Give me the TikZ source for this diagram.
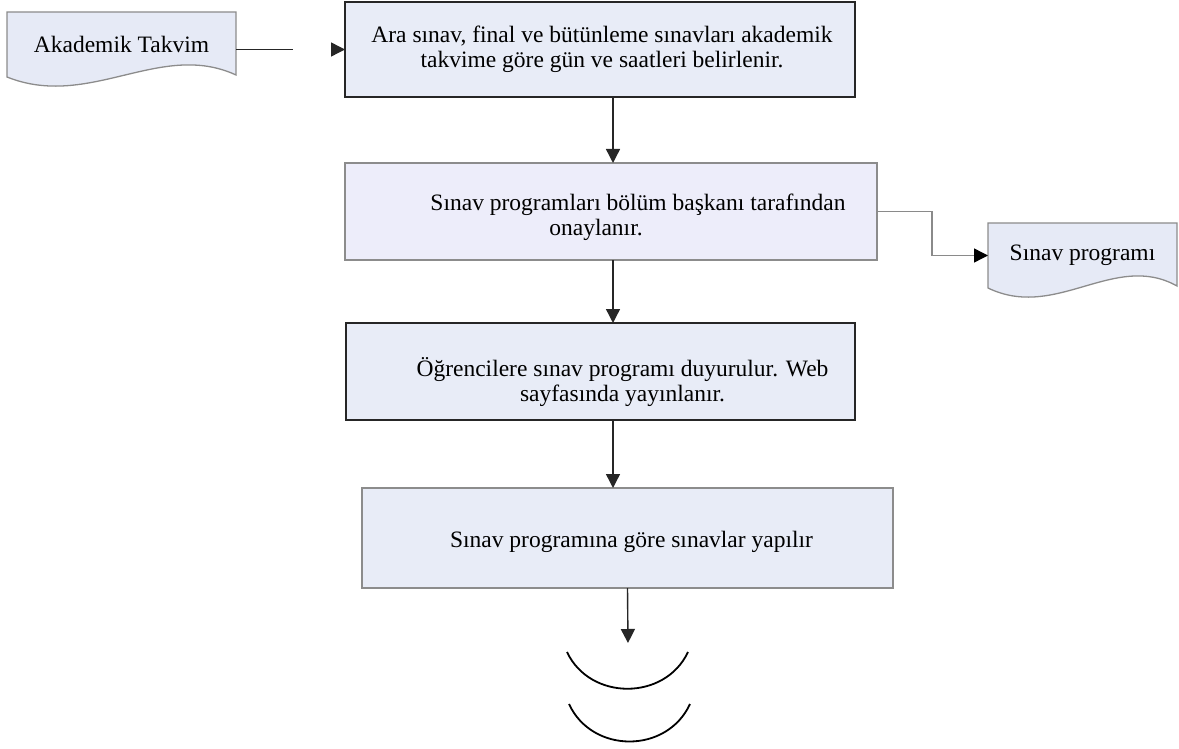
\documentclass[tikz,border=0pt]{standalone}
\usepackage{fontspec}
\setmainfont{Liberation Serif}
\usetikzlibrary{arrows.meta,calc,backgrounds}
\definecolor{boxfill}{HTML}{E8ECF7}
\definecolor{boxfillb}{HTML}{EDEDFA}
\definecolor{docfill}{HTML}{E6EAF6}
\definecolor{docline}{HTML}{8C8C8C}
\definecolor{linegray}{HTML}{8A8A8A}
\newcommand{\docoutline}[1]{%
  \begin{scope}[on background layer]
    \draw[draw=docline, line width=1.3pt, fill=docfill] (#1.north west) -- (#1.north east) -- ([yshift=2pt]#1.south east)
      .. controls ($(#1.south west)!0.67!(#1.south east)+(0pt,37pt)$) and ($(#1.south west)!0.36!(#1.south east)+(0pt,-33pt)$) .. (#1.south west) -- cycle;
  \end{scope}}
\begin{document}
\begin{tikzpicture}[x=1pt, y=-1pt,
    stepbox/.style={draw=black!85, line width=1.6pt, fill=boxfill, inner sep=0pt, outer sep=0pt},
    softbox/.style={stepbox, draw=black!45, fill=boxfillb},
    boxtext/.style={inner sep=0pt, align=center, font=\fontsize{23.5}{25}\selectfont},
    docnode/.style={inner sep=0pt, outer sep=0pt, font=\fontsize{23.5}{25}\selectfont},
    flow/.style={-{Triangle[length=14pt,width=14pt]}, line width=1.4pt, draw=black!85},
    flowgray/.style={-{Triangle[length=14pt,width=14pt,black]}, line width=1.4pt, draw=linegray}]
  \useasboundingbox (0,0) rectangle (1179,749);
  \node[docnode, minimum width=229pt, minimum height=65pt] (takvim) at (121.5,44.5) {Akademik Takvim};
  \docoutline{takvim}
  \node[stepbox, minimum width=510pt, minimum height=95pt] (box1) at (600,49.5) {};
  \node[boxtext] (box1txt) at ($(box1.center)+(2,0)$) {Ara sınav, final ve bütünleme sınavları akademik\\takvime göre gün ve saatleri belirlenir.};
  \node[softbox, minimum width=532pt, minimum height=97pt] (box2) at (611,211.5) {};
  \node[boxtext] (box2txt) at ($(box2.center)+(27,6)$) {Sınav programları bölüm başkanı tarafından\\onaylanır.\hspace*{84pt}};
  \node[docnode, minimum width=189pt, minimum height=65pt] (prog) at (1082.5,255.5) {Sınav programı};
  \docoutline{prog}
  \node[stepbox, minimum width=509pt, minimum height=97pt] (box3) at (600.5,371.5) {};
  \node[boxtext] (box3txt) at ($(box3.center)+(22,11)$) {Öğrencilere sınav programı duyurulur. Web\\sayfasında yayınlanır.};
  \node[softbox, fill=boxfill, minimum width=531pt, minimum height=100pt] (box4) at (627.5,538) {};
  \node[boxtext] (box4txt) at ($(box4.center)+(4,4)$) {Sınav programına göre sınavlar yapılır};
  \coordinate (endc) at (628,643);
  \draw[flow, dash pattern=on 57pt off 300pt] (takvim.east |- box1.west) -- (box1.west);
  \draw[flow] ([xshift=13pt]box1.south) -- ([xshift=13pt]box1.south |- box2.north);
  \draw[flowgray] (box2.east) -- ++(55,0) |- (prog.west);
  \draw[flow] ([xshift=2pt]box2.south) -- ([xshift=2pt]box2.south |- box3.north);
  \draw[flow] ([xshift=12.5pt]box3.south) -- ([xshift=12.5pt]box3.south |- box4.north);
  \draw[flow] (box4.south) -- (endc);
  \draw[line width=1.8pt] (567,652) .. controls (590,701) and (665,701) .. (688,652);
  \draw[line width=1.8pt] (569,704) .. controls (592,754) and (667,754) .. (690,704);
\end{tikzpicture}
\end{document}
